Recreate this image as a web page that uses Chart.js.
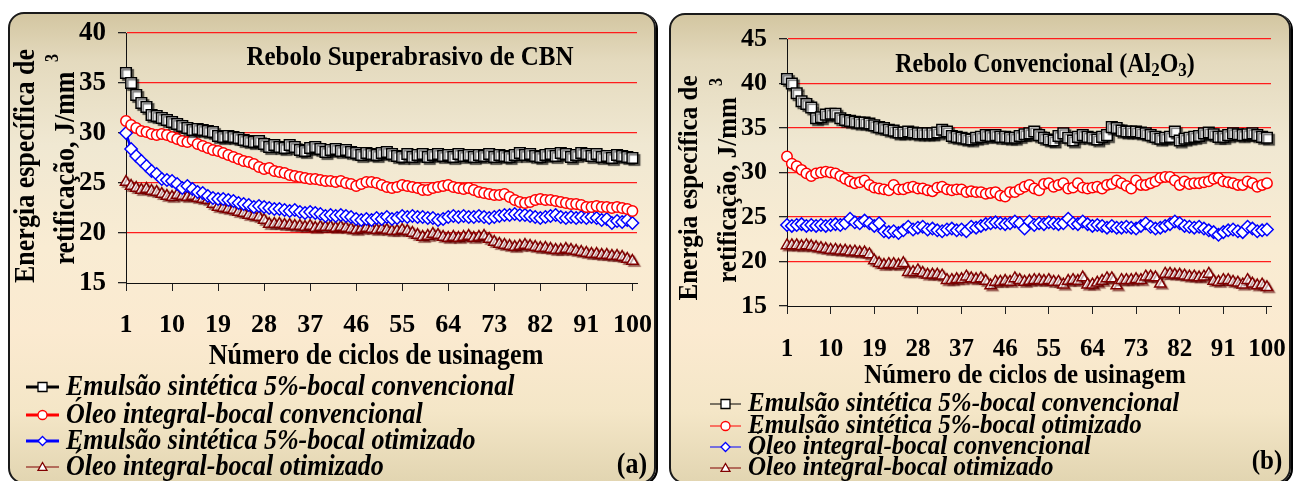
<!DOCTYPE html>
<html>
<head>
<meta charset="utf-8">
<script src="https://cdn.jsdelivr.net/npm/chart.js@4.4.1/dist/chart.umd.min.js"></script>
<style>
html, body { margin: 0; padding: 0; background: #fff; width: 1296px; height: 481px; overflow: hidden; }
.panel { position: absolute; }
.panel .bg {
    position: absolute; left: 0; top: 0; right: 0; bottom: 0;
    box-sizing: border-box; border: 2px solid #1a1a1a; border-radius: 16px;
    background: linear-gradient(to bottom, #d3c6a1 0%, #e4dabe 10%, #f0e8d2 28%, #f9ecd3 50%, #fbead0 68%, #f4e6c7 85%, #e2d5b1 100%);
    box-shadow: 2px 1px 0 #000;
}
.panel canvas { position: absolute; left: 0; top: 0; }
</style>
</head>
<body>
<div class="panel" id="pa" style="left:8px; top:12px; width:648px; height:472px;">
    <div class="bg"></div>
    <canvas id="chartA" width="648" height="472"></canvas>
</div>
<div class="panel" id="pb" style="left:669px; top:13px; width:622px; height:471px;">
    <div class="bg"></div>
    <canvas id="chartB" width="622" height="471"></canvas>
</div>
<script>
// x categories (machining cycles) and tick labels
const cycles = Array.from({ length: 100 }, (_, i) => i + 1);
const xTickLabels = [1, 10, 19, 28, 37, 46, 55, 64, 73, 82, 91, 100];
const yTicksCBN = [15, 20, 25, 30, 35, 40];
const yTicksAl2O3 = [15, 20, 25, 30, 35, 40, 45];

// (a) Rebolo Superabrasivo de CBN
const cbnEmulsaoConv = [
    36.0, 35.0, 33.8, 33.0, 32.6, 31.8, 31.7, 31.5, 31.3, 31.1,
    30.9, 30.7, 30.5, 30.3, 30.4, 30.3, 30.2, 30.1, 29.7, 29.6,
    29.7, 29.6, 29.5, 29.3, 29.2, 29.1, 29.2, 28.9, 28.6, 28.8,
    28.6, 28.5, 28.8, 28.6, 28.3, 28.2, 28.5, 28.6, 28.4, 28.1,
    28.3, 28.4, 28.2, 28.3, 28.1, 28.0, 27.8, 28.0, 27.9, 27.8,
    28.0, 28.1, 27.9, 27.7, 27.6, 27.9, 27.6, 27.8, 27.9, 27.6,
    27.8, 27.9, 27.7, 27.8, 27.6, 27.9, 27.7, 27.8, 27.6, 27.8,
    27.7, 27.9, 27.6, 27.8, 27.7, 27.6, 27.8, 28.0, 27.8, 27.9,
    27.7, 27.6, 27.8, 27.9, 27.7, 28.0, 27.9, 27.6, 27.8, 28.0,
    27.9, 27.7, 27.9, 27.6, 27.7, 27.5, 27.8, 27.7, 27.6, 27.5
];
const cbnOleoConv = [
    31.2, 30.8, 30.5, 30.2, 30.1, 29.9, 29.8, 29.9, 29.8, 29.6,
    29.4, 29.2, 29.1, 29.3, 28.9, 28.7, 28.5, 28.3, 28.2, 28.0,
    27.8, 27.6, 27.4, 27.2, 27.1, 26.9, 26.6, 26.4, 26.5, 26.2,
    26.1, 26.0, 25.8, 25.7, 25.6, 25.5, 25.4, 25.4, 25.3, 25.2,
    25.2, 25.1, 25.2, 25.0, 24.9, 24.7, 24.9, 25.1, 25.1, 25.0,
    24.8, 24.6, 24.5, 24.6, 24.8, 24.7, 24.6, 24.5, 24.3, 24.3,
    24.5, 24.6, 24.7, 24.8, 24.6, 24.5, 24.4, 24.5, 24.3, 24.1,
    24.0, 23.9, 23.8, 23.8, 23.9, 23.6, 23.3, 23.1, 23.0, 23.1,
    23.3, 23.4, 23.3, 23.3, 23.2, 23.1, 23.0, 22.9, 22.9, 22.8,
    22.6, 22.6, 22.7, 22.6, 22.6, 22.5, 22.6, 22.5, 22.4, 22.2
];
const cbnEmulsaoOtim = [
    30.0, 28.4, 27.7, 27.2, 26.7, 26.2, 25.9, 25.4, 25.3, 25.2,
    24.9, 24.5, 24.7, 24.4, 24.1, 24.0, 23.7, 23.5, 23.4, 23.4,
    23.3, 23.2, 23.0, 22.9, 22.8, 22.6, 22.7, 22.6, 22.5, 22.4,
    22.4, 22.3, 22.2, 22.3, 22.1, 22.0, 22.1, 22.0, 21.9, 21.7,
    21.8, 21.7, 21.8, 21.7, 21.6, 21.4, 21.3, 21.4, 21.3, 21.5,
    21.4, 21.6, 21.4, 21.5, 21.7, 21.6, 21.7, 21.6, 21.6, 21.5,
    21.5, 21.3, 21.4, 21.6, 21.7, 21.6, 21.7, 21.6, 21.6, 21.7,
    21.6, 21.5, 21.6, 21.7, 21.8, 21.8, 21.9, 21.8, 21.8, 21.7,
    21.6, 21.5, 21.6, 21.7, 21.8, 21.6, 21.5, 21.6, 21.5, 21.6,
    21.5, 21.6, 21.5, 21.3, 21.4, 21.0, 21.2, 21.1, 21.3, 21.0
];
const cbnOleoOtim = [
    25.1, 24.7, 24.5, 24.3, 24.4, 24.2, 24.1, 23.9, 23.7, 23.6,
    23.8, 23.7, 23.6, 23.7, 23.5, 23.4, 23.3, 22.9, 22.6, 22.5,
    22.4, 22.3, 22.1, 22.0, 21.8, 21.7, 21.6, 21.3, 20.9, 20.9,
    20.9, 20.8, 20.8, 20.7, 20.7, 20.6, 20.7, 20.5, 20.6, 20.6,
    20.6, 20.5, 20.6, 20.5, 20.4, 20.3, 20.4, 20.5, 20.4, 20.3,
    20.4, 20.3, 20.2, 20.2, 20.3, 20.2, 20.0, 19.8, 19.6, 19.7,
    19.9, 19.8, 19.6, 19.5, 19.6, 19.5, 19.6, 19.7, 19.5, 19.6,
    19.7, 19.4, 19.1, 18.9, 18.8, 18.7, 18.6, 18.7, 18.8, 18.7,
    18.6, 18.5, 18.5, 18.4, 18.3, 18.3, 18.4, 18.3, 18.2, 18.1,
    18.0, 17.9, 17.9, 17.8, 17.8, 17.7, 17.7, 17.6, 17.4, 17.2
];

// (b) Rebolo Convencional (Al2O3)
const alEmulsaoConv = [
    40.5, 40.0, 38.9, 38.0, 37.7, 37.3, 36.1, 36.2, 36.5, 36.6,
    36.6, 36.1, 35.9, 35.8, 35.7, 35.6, 35.6, 35.5, 35.3, 35.1,
    35.0, 34.8, 34.7, 34.5, 34.5, 34.6, 34.5, 34.4, 34.4, 34.4,
    34.4, 34.5, 34.8, 34.6, 34.1, 34.0, 33.9, 33.8, 33.7, 33.9,
    34.0, 34.2, 34.1, 34.2, 34.0, 34.0, 33.9, 33.9, 34.1, 34.3,
    34.4, 34.6, 34.2, 33.9, 33.7, 33.6, 34.1, 34.4, 33.9, 33.6,
    34.0, 34.2, 34.0, 33.9, 33.7, 34.0, 34.2, 35.1, 35.0, 34.7,
    34.6, 34.6, 34.6, 34.5, 34.4, 34.2, 34.0, 33.8, 33.9, 34.0,
    34.6, 33.6, 33.8, 33.9, 34.0, 34.1, 34.4, 34.5, 34.3, 34.0,
    34.0, 34.2, 34.4, 34.3, 34.2, 34.3, 34.4, 34.2, 34.0, 33.9
];
const alEmulsaoOtim = [
    31.8, 31.0, 30.7, 30.3, 29.9, 29.6, 29.9, 30.0, 30.1, 30.0,
    29.9, 29.6, 29.3, 29.0, 28.8, 28.9, 29.1, 28.6, 28.3, 28.2,
    28.1, 28.0, 28.6, 28.1, 28.1, 28.3, 28.4, 28.2, 28.2, 28.0,
    27.9, 28.3, 28.4, 28.1, 28.0, 28.1, 28.1, 27.8, 27.9, 27.8,
    27.8, 27.6, 27.7, 27.8, 27.4, 27.3, 27.8, 27.8, 28.1, 28.4,
    28.6, 28.2, 28.0, 28.7, 28.8, 28.4, 28.6, 28.8, 28.2, 28.3,
    28.8, 28.3, 28.2, 28.3, 28.4, 28.2, 28.6, 28.7, 29.1, 28.8,
    28.5, 28.2, 29.1, 28.6, 28.6, 28.8, 29.0, 29.4, 29.5, 29.5,
    29.1, 28.6, 29.0, 28.7, 28.8, 28.8, 28.9, 29.0, 29.3, 29.4,
    29.0, 28.9, 28.8, 28.6, 28.6, 29.0, 28.8, 28.4, 28.6, 28.8
];
const alOleoConv = [
    24.1, 24.0, 24.1, 24.2, 24.0, 24.1, 24.0, 24.1, 24.0, 24.1,
    24.2, 24.1, 24.3, 24.8, 24.4, 24.3, 24.6, 24.3, 24.0, 24.3,
    23.4, 23.3, 23.4, 23.2, 23.5, 23.9, 23.6, 23.8, 23.9, 23.6,
    23.7, 23.5, 23.4, 23.6, 23.7, 23.5, 23.6, 23.4, 23.9, 23.8,
    24.0, 24.2, 24.3, 24.4, 24.3, 24.2, 24.3, 24.5, 24.3, 23.7,
    24.5, 24.1, 24.3, 24.2, 24.4, 24.3, 24.2, 24.3, 24.8, 24.3,
    24.2, 24.5, 24.2, 24.0, 24.1, 24.0, 23.8, 24.0, 23.8, 23.8,
    23.9, 23.8, 23.7, 24.0, 24.3, 23.9, 23.7, 23.8, 24.0, 24.2,
    24.5, 24.3, 24.0, 23.9, 23.8, 23.9, 23.7, 23.5, 23.3, 23.0,
    23.3, 23.5, 23.6, 23.4, 23.3, 23.9, 23.7, 23.4, 23.5, 23.6
];
const alOleoOtim = [
    21.8, 21.8, 21.8, 21.7, 21.8, 21.7, 21.6, 21.5, 21.4, 21.3,
    21.3, 21.2, 21.2, 21.1, 21.1, 21.0, 21.0, 20.8, 20.1, 19.8,
    19.6, 19.7, 19.7, 19.6, 19.8, 18.8, 18.8, 19.0, 18.7, 18.5,
    18.5, 18.5, 18.4, 17.9, 17.9, 18.0, 18.0, 18.3, 18.1, 18.0,
    18.1, 17.8, 17.3, 17.7, 17.7, 17.8, 17.7, 18.1, 17.9, 17.7,
    17.8, 17.9, 17.9, 17.8, 17.9, 17.7, 17.7, 17.4, 17.8, 17.9,
    17.8, 18.2, 17.4, 17.4, 17.6, 17.8, 18.1, 18.1, 17.3, 17.9,
    17.9, 17.9, 18.0, 17.9, 18.3, 18.3, 18.2, 17.5, 18.6, 18.6,
    18.5, 18.5, 18.4, 18.3, 18.3, 18.2, 18.3, 18.6, 17.8, 17.7,
    17.9, 17.9, 17.7, 17.6, 17.4, 17.9, 17.5, 17.3, 17.4, 17.1
];

const SERIF = '"Liberation Serif", "Times New Roman", serif';
const STRETCH = 1.13; // the original lettering is a little taller than wide
Chart.defaults.font.family = SERIF;

function drawText(ctx, s, x, y, font, align) {
    ctx.save();
    ctx.translate(x, y);
    ctx.scale(1, STRETCH);
    ctx.font = font;
    ctx.textAlign = align || 'center';
    ctx.textBaseline = 'middle';
    ctx.fillStyle = '#000';
    ctx.fillText(s, 0, 0);
    ctx.restore();
}

function drawRotated(ctx, s, cx, cy, font) {
    ctx.save();
    ctx.translate(cx, cy);
    ctx.rotate(-Math.PI / 2);
    drawText(ctx, s, 0, 0, font);
    ctx.restore();
}

function drawMarker(ctx, style, x, y, r, color) {
    ctx.save();
    ctx.beginPath();
    if (style === 'rect') {
        ctx.rect(x - r, y - r, 2 * r, 2 * r);
    } else if (style === 'circle') {
        ctx.arc(x, y, r, 0, Math.PI * 2);
    } else if (style === 'rectRot') {
        ctx.moveTo(x - r, y); ctx.lineTo(x, y - r); ctx.lineTo(x + r, y); ctx.lineTo(x, y + r);
        ctx.closePath();
    } else {
        ctx.moveTo(x, y - r); ctx.lineTo(x + r, y + r * 0.75); ctx.lineTo(x - r, y + r * 0.75);
        ctx.closePath();
    }
    ctx.fillStyle = '#fff';
    ctx.fill();
    ctx.lineWidth = 1.3;
    ctx.strokeStyle = color;
    ctx.stroke();
    ctx.restore();
}

// Title with subscripts: parts = [[text, isSub], ...]
function drawTitle(ctx, parts, cx, cy, size) {
    const big = 'bold ' + size + 'px ' + SERIF;
    const small = 'bold ' + Math.round(size * 0.7) + 'px ' + SERIF;
    let total = 0;
    parts.forEach(p => { ctx.font = p[1] ? small : big; total += ctx.measureText(p[0]).width; });
    let x = cx - total / 2;
    parts.forEach(p => {
        const f = p[1] ? small : big;
        drawText(ctx, p[0], x, cy + (p[1] ? size * 0.24 : 0), f, 'left');
        ctx.font = f;
        x += ctx.measureText(p[0]).width;
    });
}

// labels may overhang the plot area, as in the original
function noLabelPadding(s) {
    s.paddingLeft = 0;
    s.paddingRight = 0;
    s.paddingTop = 0;
    s.paddingBottom = 0;
}

function buildChart(id, opt) {
    const datasets = opt.series.map(s => ({
        label: s.label,
        data: s.values.map((v, i) => ({ x: cycles[i], y: v })),
        borderColor: s.color,
        borderWidth: s.lineWidth,
        pointStyle: s.marker,
        pointRadius: s.radius,
        pointBorderWidth: 1.5,
        pointBorderColor: s.color,
        pointBackgroundColor: '#fff',
        pointHoverRadius: s.radius,
        shadow: s.shadow,
        clip: false,
        tension: 0
    }));

    const deco = {
        id: 'deco',
        beforeDatasetDraw(chart, args) {
            const ds = chart.data.datasets[args.index];
            const ctx = chart.ctx;
            ctx.save();
            if (ds.shadow) {
                ctx.shadowColor = ds.shadow;
                ctx.shadowOffsetX = 2;
                ctx.shadowOffsetY = 2;
                ctx.shadowBlur = 1;
            }
        },
        afterDatasetDraw(chart) {
            chart.ctx.restore();
        },
        afterDraw(chart) {
            const ctx = chart.ctx;
            const fs = opt.fontSize;
            // axis titles
            const yFont = 'bold ' + fs + 'px ' + SERIF;
            drawRotated(ctx, 'Energia específica de', opt.yTitle1[0], opt.yTitle1[1], yFont);
            drawRotated(ctx, 'retificação, J/mm', opt.yTitle2[0], opt.yTitle2[1], yFont);
            drawRotated(ctx, '3', opt.yTitleSup[0], opt.yTitleSup[1], 'bold ' + Math.round(fs * 0.62) + 'px ' + SERIF);
            drawText(ctx, 'Número de ciclos de usinagem', opt.xTitle[0], opt.xTitle[1], yFont);
            // chart title
            drawTitle(ctx, opt.title, opt.titlePos[0], opt.titlePos[1], opt.titleSize);
            // legend
            const lg = opt.legend;
            opt.series.forEach((s, i) => {
                const y = lg.rows[i];
                ctx.save();
                ctx.strokeStyle = s.color;
                ctx.lineWidth = s.legendWidth;
                ctx.beginPath();
                ctx.moveTo(lg.x1, y);
                ctx.lineTo(lg.x2, y);
                ctx.stroke();
                ctx.restore();
                drawMarker(ctx, s.marker, (lg.x1 + lg.x2) / 2, y, lg.markerR, s.color);
                drawText(ctx, s.label, lg.textX, y, 'italic bold ' + lg.size + 'px ' + SERIF, 'left');
            });
            drawText(ctx, opt.letter, opt.letterPos[0], opt.letterPos[1], yFont);
        }
    };

    const area = opt.area; // wanted plot area in canvas pixels
    let pad = { left: 0, top: area.top, right: opt.canvasW - area.right, bottom: 140 };
    const chart = new Chart(document.getElementById(id), {
        type: 'line',
        data: { datasets },
        options: {
            responsive: false,
            animation: false,
            events: [],
            layout: { autoPadding: false, padding: pad },
            plugins: { legend: { display: false }, tooltip: { enabled: false } },
            scales: {
                x: {
                    type: 'linear',
                    min: 1,
                    max: opt.xMax,
                    afterBuildTicks: s => { s.ticks = xTickLabels.map(v => ({ value: v })); },
                    afterFit: s => { s.height = 60; noLabelPadding(s); },
                    grid: { drawOnChartArea: false, drawTicks: true, tickLength: 8, tickColor: '#222', lineWidth: 1 },
                    border: { color: '#111', width: 1 },
                    ticks: { autoSkip: false, maxRotation: 0, color: '#000', padding: opt.xTickPad,
                             font: { size: opt.tickSize, weight: 'bold' } }
                },
                y: {
                    min: 15,
                    max: opt.yMax,
                    afterBuildTicks: s => { s.ticks = opt.yTicks.map(v => ({ value: v })); },
                    afterFit: s => { s.width = area.left; noLabelPadding(s); },
                    grid: {
                        color: c => (c.tick && c.tick.value === 15) ? 'rgba(0,0,0,0)' : '#ff1c1c',
                        lineWidth: 1.3, tickLength: 8, tickColor: '#222'
                    },
                    border: { color: '#111', width: 1 },
                    ticks: { color: '#000', padding: 12, font: { size: opt.tickSize + 1, weight: 'bold' } }
                }
            }
        },
        plugins: [deco]
    });

    // nudge the layout padding until the plot area sits where the original has it
    for (let k = 0; k < 5; k++) {
        const a = chart.chartArea;
        const dTop = area.top - a.top;
        const dRight = a.right - area.right;
        const dBottom = a.bottom - area.bottom;
        if (Math.abs(dTop) < 0.5 && Math.abs(dRight) < 0.5 && Math.abs(dBottom) < 0.5) break;
        pad = {
            left: 0,
            top: Math.max(0, pad.top + dTop),
            right: Math.max(0, pad.right + dRight),
            bottom: Math.max(0, pad.bottom + dBottom)
        };
        chart.config.options.layout.padding = pad;
        chart.update();
    }
    return chart;
}

const seriesStyle = {
    black: { color: '#000000', marker: 'rect', radius: 7.5, shadow: 'rgba(0,0,0,0.55)' },
    red: { color: '#ff0000', marker: 'circle', radius: 5.2, shadow: null },
    blue: { color: '#0000ff', marker: 'rectRot', radius: 6.2, shadow: null },
    brown: { color: '#800000', marker: 'triangle', radius: 6.5, shadow: 'rgba(90,0,0,0.45)' }
};

buildChart('chartA', {
    series: [
        Object.assign({ label: 'Emulsão sintética 5%-bocal convencional', values: cbnEmulsaoConv, lineWidth: 2.5, legendWidth: 3 }, seriesStyle.black),
        Object.assign({ label: 'Óleo integral-bocal convencional', values: cbnOleoConv, lineWidth: 2.5, legendWidth: 3 }, seriesStyle.red),
        Object.assign({ label: 'Emulsão sintética 5%-bocal otimizado', values: cbnEmulsaoOtim, lineWidth: 2.5, legendWidth: 3 }, seriesStyle.blue),
        Object.assign({ label: 'Óleo integral-bocal otimizado', values: cbnOleoOtim, lineWidth: 1, legendWidth: 1 }, seriesStyle.brown)
    ],
    yMax: 40,
    yTicks: yTicksCBN,
    xMax: 100.9,
    canvasW: 648,
    area: { left: 118, top: 21, right: 629, bottom: 271 },
    tickSize: 26,
    xTickPad: 19,
    fontSize: 26,
    yTitle1: [18, 154],
    yTitle2: [58, 156],
    yTitleSup: [45, 46],
    xTitle: [368, 344],
    title: [['Rebolo Superabrasivo de CBN', 0]],
    titlePos: [402, 46],
    titleSize: 25,
    legend: { rows: [375, 403, 429, 455], x1: 18, x2: 51, textX: 58, markerR: 4.5, size: 26 },
    letter: '(a)',
    letterPos: [624, 453]
});

buildChart('chartB', {
    series: [
        Object.assign({ label: 'Emulsão sintética 5%-bocal convencional', values: alEmulsaoConv, lineWidth: 1, legendWidth: 1 }, seriesStyle.black),
        Object.assign({ label: 'Emulsão sintética 5%-bocal otimizado', values: alEmulsaoOtim, lineWidth: 1, legendWidth: 1 }, seriesStyle.red),
        Object.assign({ label: 'Óleo integral-bocal convencional', values: alOleoConv, lineWidth: 1, legendWidth: 1 }, seriesStyle.blue),
        Object.assign({ label: 'Óleo integral-bocal otimizado', values: alOleoOtim, lineWidth: 1, legendWidth: 1 }, seriesStyle.brown)
    ],
    yMax: 45,
    yTicks: yTicksAl2O3,
    xMax: 100.83,
    canvasW: 622,
    area: { left: 118, top: 26, right: 602, bottom: 293 },
    tickSize: 25,
    xTickPad: 21,
    fontSize: 25,
    yTitle1: [21, 175],
    yTitle2: [60, 177],
    yTitleSup: [48, 69],
    xTitle: [356, 363],
    title: [['Rebolo Convencional (Al', 0], ['2', 1], ['O', 0], ['3', 1], [')', 0]],
    titlePos: [376, 52],
    titleSize: 24,
    legend: { rows: [391, 413, 434, 455], x1: 41, x2: 72, textX: 79, markerR: 4.5, size: 25 },
    letter: '(b)',
    letterPos: [598, 449]
});
</script>
</body>
</html>
